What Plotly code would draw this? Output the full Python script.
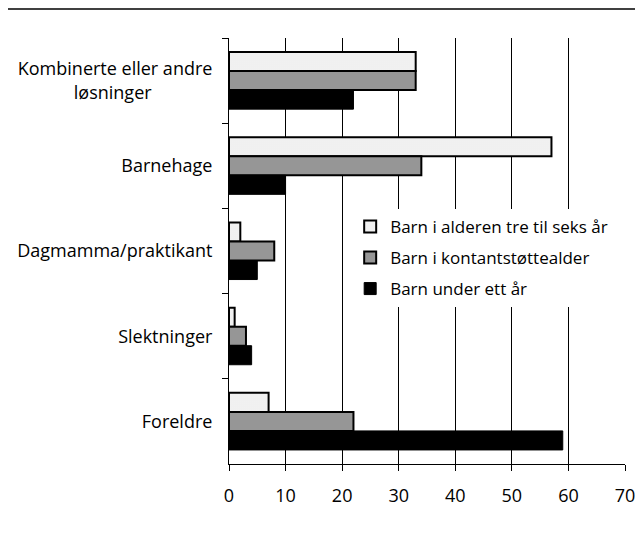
import plotly.graph_objects as go

categories = ["Kombinerte eller andre<br>løsninger", "Barnehage", "Dagmamma/praktikant", "Slektninger", "Foreldre"]
series_names = ["Barn i alderen tre til seks år", "Barn i kontantstøttealder", "Barn under ett år"]
tre_til_seks = [33, 57, 2, 1, 7]
kontantstotte = [33, 34, 8, 3, 22]
under_ett = [22, 10, 5, 4, 59]
x_ticks = [0, 10, 20, 30, 40, 50, 60, 70]

# center the second line of the first label
pad = "\u00a0" * 13
cat_labels = [categories[0] + pad] + categories[1:]

FONT = "Open Sans"

fig = go.Figure()
fig.add_trace(go.Bar(
    y=cat_labels, x=tre_til_seks, name=series_names[0], orientation="h", legendgroup="a",
    marker=dict(color="white", line=dict(color="black", width=2),
                pattern=dict(shape=".", fgcolor="#b0b0b0", bgcolor="white", size=2, solidity=0.4)),
))
fig.add_trace(go.Bar(
    y=cat_labels, x=kontantstotte, name=series_names[1], orientation="h", legendgroup="b",
    marker=dict(color="#969696", line=dict(color="black", width=2)),
))
fig.add_trace(go.Bar(
    y=cat_labels, x=under_ett, name=series_names[2], orientation="h", legendgroup="c",
    marker=dict(color="black", line=dict(color="black", width=1)),
))

# page has an 8px body margin: figure origin sits at (8, 8)
fig.update_layout(
    width=635, height=528,
    margin=dict(l=221, r=18, t=30, b=72),
    paper_bgcolor="white", plot_bgcolor="white",
    barmode="group", bargap=0.33, bargroupgap=0,
    font=dict(family=FONT, size=18, color="black"),
    showlegend=True,
    legend=dict(x=0.306, y=0.599, xanchor="left", yanchor="top",
                bgcolor="white", borderwidth=0, font=dict(size=17, family=FONT),
                traceorder="grouped", tracegroupgap=6, itemwidth=30),
    xaxis=dict(range=[0, 70], tickvals=x_ticks, showgrid=True, gridcolor="black", gridwidth=1,
               ticks="outside", ticklen=6, tickcolor="black", showline=True, linecolor="black",
               linewidth=1, zeroline=False, tickfont=dict(size=18, family=FONT), automargin=False,
               ticklabelstandoff=9),
    yaxis=dict(autorange="reversed", showline=True, linecolor="black", linewidth=1,
               ticks="outside", ticklen=6, tickcolor="black", tickson="boundaries",
               showgrid=False, tickfont=dict(size=18, family=FONT), ticklabelstandoff=12,
               automargin=False),
)

fig.add_shape(type="line", xref="paper", yref="paper",
              x0=-221/396, x1=(635-221)/396, y0=455/426, y1=455/426,
              line=dict(color="black", width=1.5))

fig.write_html("out.html")
